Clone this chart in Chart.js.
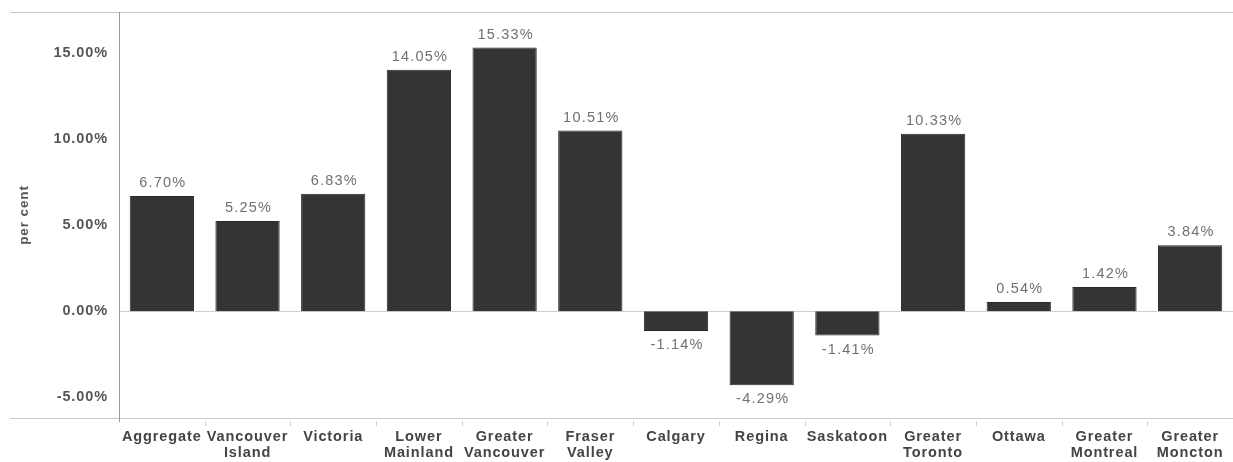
<!DOCTYPE html>
<html>
<head>
<meta charset="utf-8">
<script src="https://cdn.jsdelivr.net/npm/chart.js@4"></script>
<style>
  html, body { margin: 0; padding: 0; background: #ffffff; }
  #wrap { width: 1233px; height: 462px; position: relative; }
</style>
</head>
<body>
<div id="wrap"><canvas id="chart"></canvas></div>
<script>
// Regions (two-line labels are arrays)
const categories = [
  'Aggregate', ['Vancouver', 'Island'], 'Victoria', ['Lower', 'Mainland'],
  ['Greater', 'Vancouver'], ['Fraser', 'Valley'], 'Calgary', 'Regina',
  'Saskatoon', ['Greater', 'Toronto'], 'Ottawa', ['Greater', 'Montreal'],
  ['Greater', 'Moncton']
];
// Percentage change per region
const changeValues = [6.70, 5.25, 6.83, 14.05, 15.33, 10.51, -1.14, -4.29, -1.41, 10.33, 0.54, 1.42, 3.84];
// Y-axis tick values
const yTicks = [-5, 0, 5, 10, 15];
const yMin = -6.2;
const yMax = 17.4;

const fontFamily = '"Liberation Sans", Arial, sans-serif';

// Slightly widened lettering for all chart text
const letterSpacing = {
  id: 'letterSpacing',
  beforeDraw(chart) { chart.ctx.letterSpacing = '0.9px'; }
};

// Draws value labels above positive bars and below negative bars
const valueLabels = {
  id: 'valueLabels',
  afterDatasetsDraw(chart) {
    const ctx = chart.ctx;
    const meta = chart.getDatasetMeta(0);
    ctx.save();
    ctx.letterSpacing = '1.2px';
    ctx.font = '14.5px ' + fontFamily;
    ctx.fillStyle = '#707070';
    ctx.textAlign = 'center';
    ctx.textBaseline = 'middle';
    meta.data.forEach((bar, i) => {
      const v = changeValues[i];
      const txt = v.toFixed(2) + '%';
      if (v >= 0) {
        ctx.fillText(txt, bar.x + 1, bar.y - 13);
      } else {
        ctx.fillText(txt, bar.x + 1, bar.y + 14);
      }
    });
    ctx.restore();
  }
};

// Frame lines across the top and bottom of the plot, zero line and axis line
const frameLines = {
  id: 'frameLines',
  beforeDatasetsDraw(chart) {
    const ctx = chart.ctx;
    const a = chart.chartArea;
    ctx.save();
    ctx.strokeStyle = '#c8c8c8';
    ctx.lineWidth = 1;
    ctx.beginPath();
    ctx.moveTo(10, a.top + 0.5);
    ctx.lineTo(chart.width, a.top + 0.5);
    ctx.moveTo(10, a.bottom + 0.5);
    ctx.lineTo(chart.width, a.bottom + 0.5);
    ctx.stroke();
    const y0 = Math.round(chart.scales.y.getPixelForValue(0)) + 0.5;
    ctx.strokeStyle = '#cfcfcf';
    ctx.beginPath();
    ctx.moveTo(a.left, y0);
    ctx.lineTo(a.right, y0);
    ctx.stroke();
    const xs = chart.scales.x;
    ctx.strokeStyle = '#d0d0d0';
    ctx.beginPath();
    for (let i = 1; i < categories.length; i++) {
      const x = Math.round((xs.getPixelForValue(i - 1) + xs.getPixelForValue(i)) / 2) + 0.5;
      ctx.moveTo(x, a.bottom + 3);
      ctx.lineTo(x, a.bottom + 8);
    }
    ctx.stroke();
    ctx.strokeStyle = '#9a9a9a';
    ctx.beginPath();
    ctx.moveTo(a.left + 0.5, a.top);
    ctx.lineTo(a.left + 0.5, a.bottom + 4);
    ctx.stroke();
    ctx.restore();
  }
};

new Chart(document.getElementById('chart'), {
  type: 'bar',
  data: {
    labels: categories,
    datasets: [{
      data: changeValues,
      backgroundColor: '#343434',
      borderColor: '#2a2a2a',
      borderWidth: 1,
      categoryPercentage: 1.0,
      barPercentage: 0.75
    }]
  },
  options: {
    responsive: true,
    maintainAspectRatio: false,
    animation: false,
    layout: { padding: { top: 12, right: 0, left: 0, bottom: 0 } },
    plugins: { legend: { display: false }, tooltip: { enabled: false } },
    scales: {
      x: {
        grid: { display: false, drawTicks: false },
        border: { display: false },
        ticks: {
          color: '#444444',
          font: { family: fontFamily, size: 14.5, weight: 'bold', lineHeight: 1.1 },
          padding: 11,
          maxRotation: 0,
          autoSkip: false
        },
        afterFit(scale) { scale.height = 44; }
      },
      y: {
        min: yMin,
        max: yMax,
        grid: { display: false, drawTicks: true, tickLength: 4, tickColor: '#bbbbbb' },
        border: { display: false },
        afterBuildTicks(scale) { scale.ticks = yTicks.map(v => ({ value: v })); },
        ticks: {
          color: '#555555',
          font: { family: fontFamily, size: 14.5, weight: 'bold' },
          padding: 7,
          callback: (v) => Number(v).toFixed(2) + '%'
        },
        title: {
          display: true,
          text: 'per cent',
          color: '#555555',
          font: { family: fontFamily, size: 13.5, weight: 'bold' },
          padding: { top: 16, bottom: 0 }
        },
        afterFit(scale) {
          scale.width = 119;
          scale.paddingTop = 0;
          scale.paddingBottom = 0;
        }
      }
    }
  },
  plugins: [letterSpacing, frameLines, valueLabels]
});
</script>
</body>
</html>
